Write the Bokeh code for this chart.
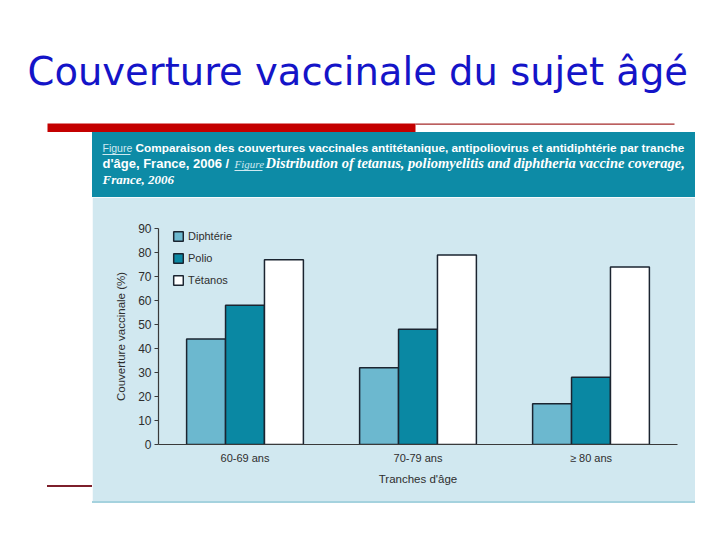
from bokeh.plotting import figure
from bokeh.models import Range1d, FixedTicker, Legend, LegendItem, Div
from bokeh.layouts import column, row
from bokeh.core.properties import value
from bokeh.embed import file_html
from bokeh.resources import INLINE
import numpy as np

# ---- data ----
ages = ["60-69 ans", "70-79 ans", "≥ 80 ans"]
series = ["Diphtérie", "Polio", "Tétanos"]
diphterie = [44, 32, 17]
polio = [58, 48, 28]
tetanos = [77, 79, 74]
y_ticks = [0, 10, 20, 30, 40, 50, 60, 70, 80, 90]

slide_title = "Couverture vaccinale du sujet âgé"
cap1a = "Figure"
cap1b = "Comparaison des couvertures vaccinales antitétanique, antipoliovirus et antidiphtérie par tranche"
cap2a = "d'âge, France, 2006 /"
cap2b = "Figure"
cap2c = "Distribution of tetanus, poliomyelitis and diphtheria vaccine coverage,"
cap3 = "France, 2006"

# ---- styles ----
colors = ["#6cb8cf", "#0a88a3", "#ffffff"]
edge = "#1b2430"
txt = "#2e2e2e"
panel_bg = "#d1e8f0"
band = "#0d8ba6"
pale = "#cfe9f1"
SANS = "Liberation Sans"
SERIF = "Liberation Serif"

TOP_H = 197
TOTAL_W = 710
LEFT_W = 92
CHART_W = 603
CHART_H = 304


def write(f, x, baseline, text, font, size, color, style="normal"):
    # place text so that its alphabetic baseline lands on `baseline`
    f.text(x=[x], y=[baseline - 0.39 * size], text=[text], text_font=value(font),
           text_font_size=f"{size}px", text_font_style=style, text_color=color,
           text_baseline="alphabetic", text_align="left")


# ---- top part: slide title, rules, caption band ----
top = figure(width=TOTAL_W, height=TOP_H, x_range=Range1d(0, TOTAL_W), y_range=Range1d(TOP_H, 0),
             output_backend="svg", toolbar_location=None,
             x_axis_location=None, y_axis_location=None,
             min_border=0, min_border_left=0, min_border_right=0,
             min_border_top=0, min_border_bottom=0)
top.outline_line_color = None
top.grid.visible = False
top.background_fill_color = "#ffffff"
top.border_fill_color = "#ffffff"

write(top, 27, 86, slide_title, "DejaVu Sans", 38.5, "#1414c8")
top.quad(left=[47], right=[415], top=[123], bottom=[131.5], fill_color="#c40000", line_color=None)
top.quad(left=[415], right=[674], top=[123], bottom=[124.3], fill_color="#a52a2a", line_color=None)
top.quad(left=[91.5], right=[694.5], top=[131.5], bottom=[TOP_H], fill_color=band, line_color=None)

write(top, 102, 152, cap1a, SANS, 10.5, pale)
top.quad(left=[102], right=[130], top=[153.6], bottom=[154.5], fill_color=pale, line_color=None)
write(top, 135, 152, cap1b, SANS, 11.8, "#ffffff", "bold")
write(top, 102, 168, cap2a, SANS, 13, "#ffffff", "bold")
write(top, 234, 168, cap2b, SERIF, 11, pale, "italic")
top.quad(left=[234], right=[262], top=[169.6], bottom=[170.5], fill_color=pale, line_color=None)
write(top, 265, 168, cap2c, SERIF, 14.5, "#ffffff", "bold italic")
write(top, 102, 184, cap3, SERIF, 13, "#ffffff", "bold italic")

# ---- left strip with thin rule ----
left = Div(width=LEFT_W, height=CHART_H, margin=0,
           text='<div style="height:288px"></div>'
                '<div style="margin-left:47px;width:45px;height:1.5px;background:#7d1f2b"></div>')

# ---- chart ----
p = figure(width=CHART_W, height=CHART_H, x_range=Range1d(0, 3), y_range=Range1d(0, 90),
           output_backend="svg", toolbar_location=None,
           min_border_left=66, min_border_right=18, min_border_top=31,
           min_border_bottom=CHART_H - 247)
p.background_fill_color = panel_bg
p.border_fill_color = panel_bg
p.outline_line_color = panel_bg
p.outline_line_width = 2
p.grid.visible = False

centers = np.arange(len(ages)) + 0.5
bw = 0.225
renderers = []
for k, (vals, col) in enumerate(zip([diphterie, polio, tetanos], colors)):
    r = p.vbar(x=centers + (k - 1) * bw, top=vals, bottom=0, width=bw,
               fill_color=col, line_color=edge, line_width=1.5)
    renderers.append(r)

legend = Legend(items=[LegendItem(label=s, renderers=[r]) for s, r in zip(series, renderers)],
                location=(14, 158), padding=0, margin=0, spacing=10,
                glyph_width=12, glyph_height=12, label_height=12, label_standoff=4,
                label_text_font=SANS, label_text_font_size="11px", label_text_color=txt,
                border_line_color=None, background_fill_alpha=0)
p.add_layout(legend)

xa = p.xaxis[0]
xa.ticker = FixedTicker(ticks=list(centers))
xa.major_label_overrides = {float(c): a for c, a in zip(centers, ages)}
xa.major_tick_out = 0
xa.major_tick_in = 0
xa.minor_tick_out = 0
xa.minor_tick_in = 0
xa.major_label_standoff = 7
xa.axis_label = "Tranches d'âge"
xa.axis_label_standoff = 6

ya = p.yaxis[0]
ya.ticker = FixedTicker(ticks=y_ticks)
ya.major_tick_out = 4
ya.major_tick_in = 0
ya.minor_tick_out = 0
ya.minor_tick_in = 0
ya.major_label_standoff = 3
ya.axis_label = "Couverture vaccinale (%)"
ya.axis_label_standoff = 8

for ax in (xa, ya):
    ax.axis_line_color = "#3a3a3a"
    ax.major_tick_line_color = "#3a3a3a"
    ax.axis_line_width = 1.2
    ax.major_label_text_font = SANS
    ax.major_label_text_color = txt
    ax.axis_label_text_font = SANS
    ax.axis_label_text_font_size = "11.5px"
    ax.axis_label_text_font_style = "normal"
    ax.axis_label_text_color = txt
xa.major_label_text_font_size = "11px"
ya.major_label_text_font_size = "12px"

strip = row(Div(width=LEFT_W, height=2, margin=0),
            Div(width=CHART_W, height=2, margin=0, styles={"background-color": "#a5d2de"}))

page = column(top, row(left, p), strip)
open("out.html", "w").write(file_html(page, INLINE))
